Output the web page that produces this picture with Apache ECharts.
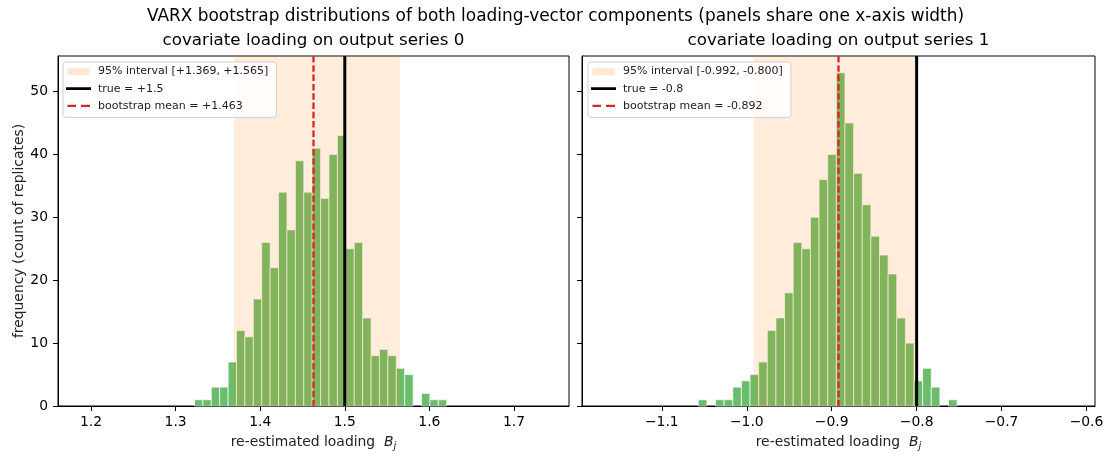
<!DOCTYPE html>
<html><head><meta charset="utf-8">
<script src="https://cdn.jsdelivr.net/npm/echarts@6/dist/echarts.min.js"></script>
<style>html,body{margin:0;padding:0;background:#fff}#c{width:1111px;height:461px}</style>
</head><body><div id="c"></div>
<script>
// ---- data ----
const counts0 = [1,1,3,3,7,12,11,17,26,22,34,28,39,34,41,33,40,43,25,26,14,8,9,8,6,5,0,2,1,1];
const binStart0 = 1.3223, binWidth0 = 0.00994;
const counts1 = [1,0,1,1,3,4,5,7,12,14,18,26,25,30,36,40,53,45,37,32,27,24,21,14,10,4,6,3,0,1];
const binStart1 = -1.0571, binWidth1 = 0.01016;
const interval0 = [1.369, 1.565], trueVal0 = 1.5, mean0 = 1.463;
const interval1 = [-0.992, -0.800], trueVal1 = -0.8, mean1 = -0.892;
const xRange0 = [1.161, 1.765], xRange1 = [-1.194, -0.590];
const xTicks0 = [1.2, 1.3, 1.4, 1.5, 1.6, 1.7];
const xTicks1 = [-1.1, -1.0, -0.9, -0.8, -0.7, -0.6];
const yTicks = [0, 10, 20, 30, 40, 50];
const yMax = 55.65;
const names0 = ['95% interval [+1.369, +1.565]', 'true = +1.5', 'bootstrap mean = +1.463'];
const names1 = ['95% interval [-0.992, -0.800]', 'true = -0.8', 'bootstrap mean = -0.892'];
const titleMain = 'VARX bootstrap distributions of both loading-vector components (panels share one x-axis width)';
const subTitles = ['covariate loading on output series 0', 'covariate loading on output series 1'];

// ---- build ----
const FONT = 'DejaVu Sans';
function hist(counts, start, w) { return counts.map((c, i) => [start + i * w, start + (i + 1) * w, c]); }
function renderBars(params, api) {
  const c = api.value(2);
  if (!c) return null;
  const p0 = api.coord([api.value(0), c]), p1 = api.coord([api.value(1), 0]);
  return { type: 'rect', shape: { x: p0[0], y: p0[1], width: p1[0] - p0[0], height: p1[1] - p0[1] },
    style: { fill: 'rgba(44,160,44,0.7)', stroke: 'rgba(255,255,255,0.7)', lineWidth: 1 } };
}
function renderSpan(params, api) {
  const cs = params.coordSys;
  const a = api.coord([api.value(0), 0]), b = api.coord([api.value(1), 0]);
  return { type: 'rect', shape: { x: a[0], y: cs.y, width: b[0] - a[0], height: cs.height },
    style: { fill: 'rgba(255,127,14,0.15)' } };
}
function lineRenderer(color, width, dash) {
  return function (params, api) {
    const cs = params.coordSys;
    const p = api.coord([api.value(0), 0]);
    return { type: 'line', shape: { x1: p[0], y1: cs.y, x2: p[0], y2: cs.y + cs.height },
      style: { stroke: color, lineWidth: width, lineDash: dash || null } };
  };
}
const fmt = v => (Math.round(v * 10) / 10).toFixed(1).replace('-', '\u2212');
const corners = 'M0,0h0.01v0.01z M25,8h-0.01v-0.01z ';
const patchIcon = 'path://' + corners + 'M1.5,0.2H23.5V7.8H1.5Z';
const lineIcon = 'path://' + corners + 'M0,2.6H25V5.4H0Z';
const dashIcon = 'path://' + corners + 'M1.5,2.8H10V5.2H1.5Z M15,2.8H24V5.2H15Z';

function xAxis(idx, range, ticks) {
  return { type: 'value', gridIndex: idx, min: range[0], max: range[1],
    axisLine: { show: true, onZero: false, lineStyle: { color: '#000', width: 1 } },
    axisTick: { show: true, length: 5, lineStyle: { color: '#000' }, customValues: ticks },
    axisLabel: { color: '#000', fontFamily: FONT, fontSize: 13.9, margin: 9, formatter: fmt, customValues: ticks },
    splitLine: { show: false },
    name: 're-estimated loading  {i|B}{s|j}', nameLocation: 'middle', nameGap: 28,
    nameTextStyle: { color: '#222', fontFamily: FONT, fontSize: 13.9,
      rich: { i: { fontStyle: 'italic', fontFamily: FONT, fontSize: 13.9, color: '#222' },
              s: { fontStyle: 'italic', fontFamily: FONT, fontSize: 10, color: '#222', padding: [7, 0, 0, 0] } } } };
}
function yAxis(idx, showLabels) {
  return { type: 'value', gridIndex: idx, min: 0, max: yMax,
    axisLine: { show: true, lineStyle: { color: '#000', width: 1 } },
    axisTick: { show: true, length: 5, lineStyle: { color: '#000' }, customValues: yTicks },
    axisLabel: { show: showLabels, color: '#000', fontFamily: FONT, fontSize: 13.9, margin: 10, customValues: yTicks },
    splitLine: { show: false },
    name: showLabels ? 'frequency (count of replicates)' : '', nameLocation: 'middle', nameGap: 32,
    nameTextStyle: { color: '#222', fontFamily: FONT, fontSize: 13.9 } };
}
function legend(left, names) {
  return { left: left, top: 62, orient: 'vertical', selectedMode: false,
    backgroundColor: 'rgba(255,255,255,0.85)', borderColor: '#d0d0d0', borderWidth: 1, borderRadius: 3,
    padding: [4, 8, 6, 3], itemGap: 6.2, itemWidth: 25, itemHeight: 8,
    textStyle: { fontFamily: FONT, fontSize: 11, color: '#222', padding: [0, 0, 0, 2] },
    data: [
      { name: names[0], icon: patchIcon, itemStyle: { color: 'rgba(255,127,14,0.18)', borderWidth: 0 } },
      { name: names[1], icon: lineIcon, itemStyle: { color: '#000', borderWidth: 0 } },
      { name: names[2], icon: dashIcon, itemStyle: { color: '#d62728', borderWidth: 0 } }
    ] };
}
function panelSeries(idx, counts, start, w, interval, tv, mv, names) {
  return [
    { type: 'custom', name: 'hist' + idx, xAxisIndex: idx, yAxisIndex: idx, z: 2,
      data: hist(counts, start, w), encode: { x: [0, 1], y: 2 }, renderItem: renderBars, silent: true },
    { type: 'custom', name: names[0], xAxisIndex: idx, yAxisIndex: idx, z: 3,
      data: [[interval[0], interval[1]]], encode: { x: [0, 1] }, renderItem: renderSpan, silent: true,
      itemStyle: { color: 'rgba(255,127,14,0.18)' } },
    { type: 'custom', name: names[1], xAxisIndex: idx, yAxisIndex: idx, z: 4,
      data: [[tv, 0]], encode: { x: 0 }, renderItem: lineRenderer('#000', 3), silent: true, itemStyle: { color: '#000' } },
    { type: 'custom', name: names[2], xAxisIndex: idx, yAxisIndex: idx, z: 5,
      data: [[mv, 0]], encode: { x: 0 }, renderItem: lineRenderer('#d62728', 2.3, [6.5, 2.8]), silent: true, itemStyle: { color: '#d62728' } }
  ];
}

const chart = echarts.init(document.getElementById('c'), null, { renderer: 'canvas' });
const titleStyle = { fontFamily: FONT, fontSize: 16.7, fontWeight: 'normal', color: '#000' };
chart.setOption({
  animation: false,
  backgroundColor: '#fff',
  title: [
    { text: titleMain, left: 'center', top: 8, padding: 0, textStyle: Object.assign({}, titleStyle, { fontSize: 16.95 }) },
    { text: subTitles[0], left: 313.5, textAlign: 'center', top: 32, padding: 0, textStyle: titleStyle },
    { text: subTitles[1], left: 838.5, textAlign: 'center', top: 32, padding: 0, textStyle: titleStyle }
  ],
  grid: [
    { left: 58, top: 56, width: 511, height: 350, show: true, borderColor: '#000', borderWidth: 1, backgroundColor: 'transparent' },
    { left: 582, top: 56, width: 513, height: 350, show: true, borderColor: '#000', borderWidth: 1, backgroundColor: 'transparent' }
  ],
  xAxis: [xAxis(0, xRange0, xTicks0), xAxis(1, xRange1, xTicks1)],
  yAxis: [yAxis(0, true), yAxis(1, false)],
  legend: [legend(63, names0), legend(588, names1)],
  series: [].concat(
    panelSeries(0, counts0, binStart0, binWidth0, interval0, trueVal0, mean0, names0),
    panelSeries(1, counts1, binStart1, binWidth1, interval1, trueVal1, mean1, names1))
});
</script></body></html>
